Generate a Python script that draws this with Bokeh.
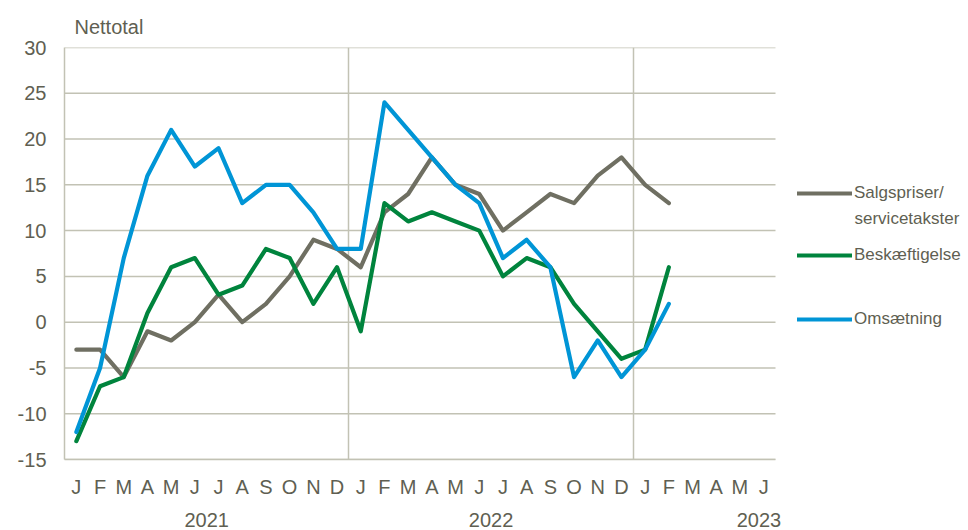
from bokeh.plotting import figure
from bokeh.models import FixedTicker, LinearAxis, Legend, LegendItem, Range1d, Label
from bokeh.embed import file_html
from bokeh.resources import INLINE

# ---- data ----
months = ["J", "F", "M", "A", "M", "J", "J", "A", "S", "O", "N", "D"] * 2 + ["J", "F", "M", "A", "M", "J"]
years = ["2021", "2022", "2023"]
year_pos = [6, 18, 29.3]
y_ticks = [-15, -10, -5, 0, 5, 10, 15, 20, 25, 30]

salgspriser = [-3, -3, -6, -1, -2, 0, 3, 0, 2, 5, 9, 8,
               6, 12, 14, 18, 15, 14, 10, 12, 14, 13, 16, 18,
               15, 13]
beskaeftigelse = [-13, -7, -6, 1, 6, 7, 3, 4, 8, 7, 2, 6,
                  -1, 13, 11, 12, 11, 10, 5, 7, 6, 2, -1, -4,
                  -3, 6]
omsaetning = [-12, -5, 7, 16, 21, 17, 19, 13, 15, 15, 12, 8,
              8, 24, 21, 18, 15, 13, 7, 9, 6, -6, -2, -6,
              -3, 2]

series_names = ["Salgspriser/", "Beskæftigelse", "Omsætning"]
name_cont = "servicetakster"
series_vals = [salgspriser, beskaeftigelse, omsaetning]
colors = ["#6f6f62", "#00843d", "#0095d6"]

FONT = "Liberation Sans"
TXT = "#5f5f52"
GRID = "#c2c2b4"

n_months = len(months)
plot_w = 711          # pixel width of the month area
frame_w = 901         # frame extends to the right edge to hold the legend
x_end = n_months * frame_w / plot_w

p = figure(output_backend="svg", toolbar_location=None,
           frame_width=frame_w, frame_height=412,
           min_border_left=64, min_border_right=0,
           min_border_top=47, min_border_bottom=0,
           x_range=Range1d(0, x_end), y_range=Range1d(-15, 30),
           title="Nettotal")

p.title.text_font = FONT
p.title.text_font_size = "20px"
p.title.text_font_style = "normal"
p.title.text_color = TXT
p.title.align = "left"
p.title.offset = 10
p.title.standoff = 19

p.outline_line_color = None
p.background_fill_color = "white"
p.border_fill_color = "white"

# y axis
p.yaxis.ticker = FixedTicker(ticks=y_ticks)
p.yaxis.major_label_overrides = {t: str(t) for t in y_ticks}
p.yaxis.axis_line_color = GRID
p.yaxis.axis_line_width = 1.5
p.yaxis.major_tick_line_color = None
p.yaxis.major_tick_out = 0
p.yaxis.major_tick_in = 0
p.yaxis.minor_tick_line_color = None
p.yaxis.major_label_standoff = 18
p.yaxis.major_label_text_font = FONT
p.yaxis.major_label_text_font_size = "20px"
p.yaxis.major_label_text_color = TXT

# x axis (months)
month_ticks = [i + 0.5 for i in range(n_months)]
p.xaxis.ticker = FixedTicker(ticks=month_ticks)
p.xaxis.major_label_overrides = {t: m for t, m in zip(month_ticks, months)}
p.xaxis.bounds = (0, n_months)
p.xaxis.axis_line_color = GRID
p.xaxis.axis_line_width = 1.5
p.xaxis.major_tick_line_color = None
p.xaxis.major_tick_out = 0
p.xaxis.major_tick_in = 0
p.xaxis.minor_tick_line_color = None
p.xaxis.major_label_standoff = 16
p.xaxis.major_label_text_font = FONT
p.xaxis.major_label_text_font_size = "20px"
p.xaxis.major_label_text_color = TXT

# second x axis (years)
yax = LinearAxis(ticker=FixedTicker(ticks=year_pos),
                 major_label_overrides={t: y for t, y in zip(year_pos, years)})
yax.axis_line_color = None
yax.major_tick_line_color = None
yax.minor_tick_line_color = None
yax.major_label_standoff = 6
yax.major_label_text_font = FONT
yax.major_label_text_font_size = "20px"
yax.major_label_text_color = TXT
p.add_layout(yax, "below")

# grids: horizontal lines only across the month area
p.ygrid.visible = False
p.segment(x0=[0] * len(y_ticks), y0=y_ticks, x1=[n_months] * len(y_ticks), y1=y_ticks,
          line_color=GRID, line_width=1.5)
p.xgrid.ticker = FixedTicker(ticks=[12, 24])
p.xgrid.grid_line_color = GRID
p.xgrid.grid_line_width = 1.5

renderers = []
for vals, c in zip(series_vals, colors):
    xs = [i + 0.5 for i in range(len(vals))]
    r = p.line(xs, vals, line_color=c, line_width=4.2, line_join="round", line_cap="round")
    renderers.append(r)

LEG_SIZE = "17px"
leg_x = 733
leg_y = [255, 193, 129]   # bottom of each legend entry, px above the frame bottom
for name, r, ly in zip(series_names, renderers, leg_y):
    lg = Legend(items=[LegendItem(label=name, renderers=[r])], location=(leg_x, ly))
    lg.border_line_color = None
    lg.background_fill_alpha = 0
    lg.padding = 0
    lg.margin = 0
    lg.glyph_width = 55
    lg.label_standoff = 2
    lg.label_height = 22
    lg.label_text_font = FONT
    lg.label_text_font_size = LEG_SIZE
    lg.label_text_color = TXT
    lg.label_text_baseline = "middle"
    p.add_layout(lg)

p.add_layout(Label(x=leg_x + 57, y=241, x_units="screen", y_units="screen",
                   text=name_cont, text_font=FONT, text_font_size=LEG_SIZE,
                   text_color=TXT, text_baseline="middle", text_align="left"))

open("out.html", "w").write(file_html(p, INLINE))
